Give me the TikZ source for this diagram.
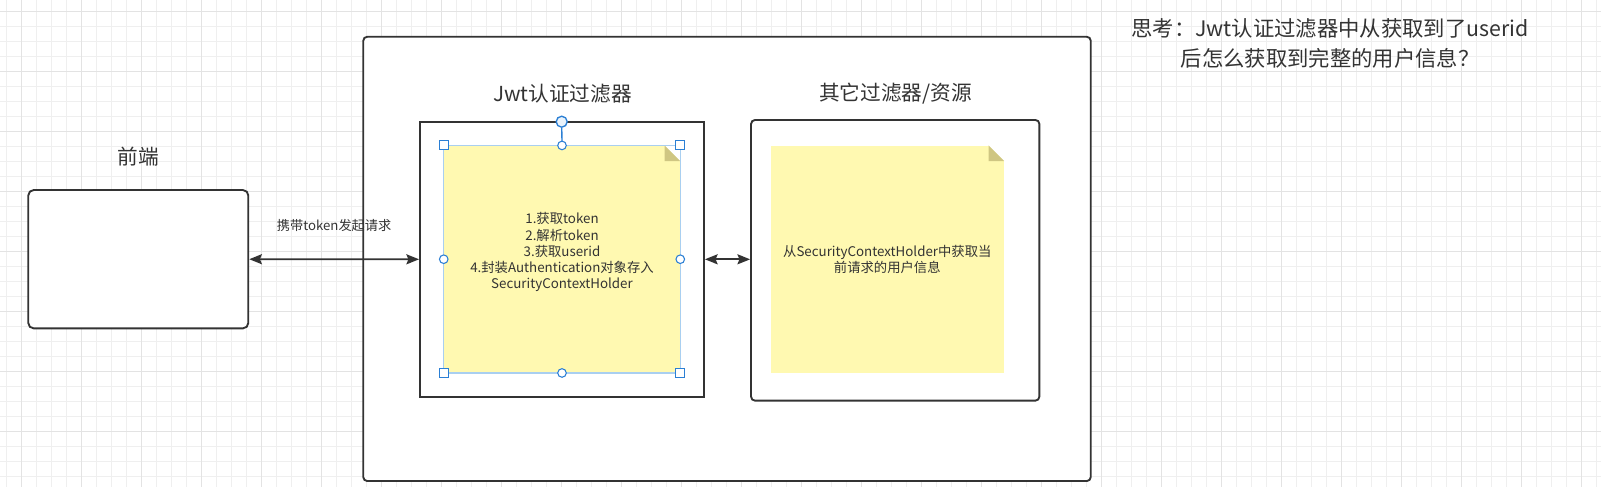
\documentclass[tikz,border=0pt]{standalone}
\usepackage{fontspec}
\setmainfont{Noto Sans CJK SC}
\usetikzlibrary{arrows.meta,positioning}

\definecolor{inkgray}{HTML}{333333}
\definecolor{notefill}{HTML}{FFF9B1}
\definecolor{notefold}{HTML}{CFC682}
\definecolor{selblue}{HTML}{2B7FD4}
\definecolor{selframe}{HTML}{A9CFF0}
\definecolor{selhandle}{HTML}{EAF3FB}
\definecolor{gridminor}{HTML}{EFEFEF}
\definecolor{gridmajor}{HTML}{E3E3E3}

\newcommand{\pxu}{0.75pt}

\begin{document}
\begin{tikzpicture}[%
    x=0.75pt, y=-0.75pt,              % one unit is one pixel, y runs down
    >={Stealth[length=9.5pt,width=7.5pt,inset=1.5pt]},
    ]
% -------------------------------------------------
% Styles for boxes, notes and handles
\tikzset{
  base/.style={draw=inkgray, line width=1.4pt, fill=white, inner sep=0pt},
  frame/.style={base, rounded corners=3pt},
  filterbox/.style={base},
  note/.style={fill=notefill, inner sep=0pt, text=inkgray, align=center,
    font=\fontsize{10}{12.2}\selectfont},
  title/.style={text=inkgray, font=\fontsize{15.5}{18}\selectfont},
  thought/.style={text=inkgray, align=center, font=\fontsize{16}{22.2}\selectfont},
  edgelabel/.style={text=inkgray, font=\fontsize{9.9}{12}\selectfont},
  link/.style={<->, draw=inkgray, line width=1.4pt},
  handlesq/.style={draw=selblue, fill=white, line width=0.8pt, minimum size=9*\pxu, inner sep=0pt},
  handledot/.style={circle, draw=selblue, fill=white, line width=0.8pt, minimum size=8.6*\pxu, inner sep=0pt},
  rothandle/.style={circle, draw=selblue, fill=selhandle, line width=1pt, minimum size=11*\pxu, inner sep=0pt},
  gridline/.style={draw=gridminor, line width=0.75pt},
  gridbold/.style={draw=gridmajor, line width=1pt}
}
\useasboundingbox (0,0) rectangle (1601,487);
% -------------------------------------------------
% Background grid
\foreach \gx in {0,...,106} \draw[gridline] ({6.7+15*\gx},0) -- ++(0,487);
\foreach \gy in {0,...,32} \draw[gridline] (0,{-3.3+15*\gy}) -- ++(1601,0);
\foreach \gx in {0,...,26} \draw[gridbold] ({21.7+60*\gx},0) -- ++(0,487);
\foreach \gy in {0,...,8} \draw[gridbold] (0,{11.7+60*\gy}) -- ++(1601,0);

% -------------------------------------------------
% Start by placing the boxes
\node [frame, minimum width=727.5*\pxu, minimum height=444.3*\pxu] (server) at (727,258.9) {};
\node [frame, rounded corners=4pt, minimum width=220*\pxu, minimum height=138.3*\pxu] (front) at (138.3,259.2) {};
\node [filterbox, minimum width=284*\pxu, minimum height=274.7*\pxu] (jwtbox) at (562,259.3) {};
\node [frame, minimum width=288.3*\pxu, minimum height=280.7*\pxu] (otherbox) at (895.2,260.3) {};

% Titles
\node [title] (fronttitle) at (138,156.7) {前端};
\node [title] (jwttitle) at (562.5,94) {Jwt认证过滤器};
\node [title] (othertitle) at (895.5,94) {其它过滤器/资源};
\node [thought] (question) at (1330,43.5) {思考：Jwt认证过滤器中从获取到了userid\\后怎么获取到完整的用户信息？};

% -------------------------------------------------
% Sticky notes with a folded corner
\node [note, minimum width=236*\pxu, minimum height=227*\pxu] (jwtnote) at (562,259.2) {};
\node [note, minimum width=233.3*\pxu, minimum height=227.6*\pxu] (infonote) at (887.3,259.5)
  {从SecurityContextHolder中获取当\\前请求的用户信息};
\foreach \n in {jwtnote,infonote} {
  \fill[white] (\n.north east) -- ++(-15.7,0) -- ++(15.7,15.7) -- cycle;
  \fill[notefold] (\n.north east) ++(-15.7,0) -- ++(0,15.7) -- ++(15.7,0) -- cycle;
}
\node [note, fill=none, below=67*\pxu of jwtnote.north] (jwtsteps)
  {1.获取token\\2.解析token\\3.获取userid\\4.封装Authentication对象存入\\SecurityContextHolder};

% Selection frame and handles on the first note
\draw[selframe, line width=1pt] (jwtnote.north west) rectangle (jwtnote.south east);
\node [rothandle] (rotate) at (561.7,121.7) {};
\draw[selblue, line width=1pt] (rotate) -- (jwtnote.north);
\foreach \a in {north west,north east,south west,south east}
  \node [handlesq] at (jwtnote.\a) {};
\foreach \a in {north,south,east,west}
  \node [handledot] at (jwtnote.\a) {};

% -------------------------------------------------
% Connectors
\draw[link] (front.east) -- node[edgelabel, above=17pt] (reqlabel) {携带token发起请求} (jwtbox.west);
\draw[link] (jwtbox.east) -- (jwtbox.east -| otherbox.west);

% -------------------------------------------------
\end{tikzpicture}
\end{document}
